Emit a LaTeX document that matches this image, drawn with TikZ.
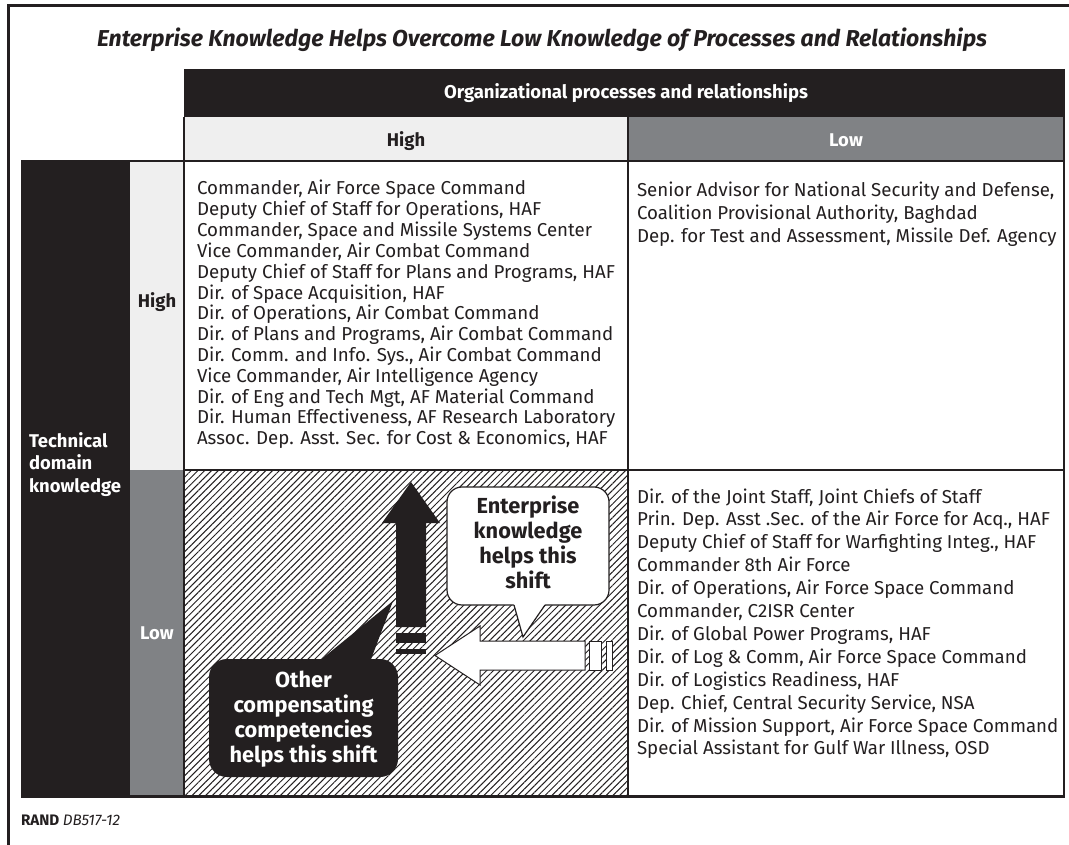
\documentclass[tikz,border=0pt]{standalone}
\usepackage{fontspec}
\setmainfont{Fira Sans}
\usetikzlibrary{patterns.meta}
\definecolor{ink}{HTML}{231F20}
\definecolor{paleg}{HTML}{EFEFEF}
\definecolor{midg}{HTML}{808285}
\newlength\probew
% font size (pt) at which sample #3 in font #2 is #4 pt wide
\newcommand\fitsz[4]{%
  \settowidth\probew{\normalfont#2\fontsize{10pt}{12pt}\selectfont #3}%
  \pgfmathsetmacro#1{10*#4/\probew}%
  \global\let#1#1}
\newcommand\setfs[1]{\fontsize{#1pt}{#1pt}\selectfont}
\AtBeginDocument{%
  \fitsz\szbody{}{Deputy Chief of Staff for Plans and Programs, HAF}{418}%
  \fitsz\szlab{\bfseries}{knowledge}{92}%
  \fitsz\szhead{\bfseries}{Organizational processes and relationships}{364}%
  \fitsz\szbub{\bfseries}{compensating}{140}%
  \fitsz\sztitle{\bfseries\itshape}{Enterprise Knowledge Helps Overcome Low Knowledge of Processes and Relationships}{890}%
  \fitsz\szrand{\bfseries}{RAND \mdseries\itshape DB517-12}{99}}

\begin{document}
\begin{tikzpicture}[x=1pt,y=-1pt,
  every node/.style={inner sep=0pt,outer sep=0pt},
  bodytxt/.style={anchor=base west,text=ink,font=\setfs{\szbody}},
  labtxt/.style={anchor=base,font=\bfseries\setfs{\szlab}},
  bubtxt/.style={anchor=base,font=\bfseries\setfs{\szbub}},
  thin rule/.style={draw=ink,line width=1.5pt},
  thick rule/.style={draw=ink,line width=2.6pt},
  hatch/.style={pattern={Lines[angle=45,distance=4.8pt,line width=1pt]},pattern color=ink}]

\useasboundingbox (0,0) rectangle (1069,845);
\fill[white] (0,0) rectangle (1069,845);

% outer frame
\draw[ink,line width=3pt] (8,845) -- (8,6) -- (1069,6);

% title
\node[anchor=base,text=ink,font=\bfseries\itshape\setfs{\sztitle}] (title) at (542,47)
  {Enterprise Knowledge Helps Overcome Low Knowledge of Processes and Relationships};

% column headers
\fill[ink] (184,69) rectangle (1064,117);
\fill[paleg] (184,117) rectangle (628,161);
\fill[midg] (628,117) rectangle (1064,161);
\node[anchor=base,text=white,font=\bfseries\setfs{\szhead}] (orghead) at (626,99)
  {Organizational processes and relationships};
\node[labtxt,text=ink] (colhigh) at (406,147) {High};
\node[labtxt,text=white] (collow) at (846,147) {Low};

% row headers
\fill[ink] (21,161) rectangle (130,796);
\fill[paleg] (130,161) rectangle (184,470);
\fill[midg] (130,470) rectangle (184,796);
\node[labtxt,anchor=base west,text=white] (tech1) at (29,447) {Technical};
\node[labtxt,anchor=base west,text=white] (tech2) at (29,469.5) {domain};
\node[labtxt,anchor=base west,text=white] (tech3) at (29,492) {knowledge};
\node[labtxt,text=ink] (rowhigh) at (157,308) {High};
\node[labtxt,text=white] (rowlow) at (157,639) {Low};

% hatched cell
\path[hatch] (184,470) rectangle (628,796);

% grid rules
\draw[thin rule] (184,117) -- (184,796);
\draw[thin rule] (628,117) -- (628,796);
\draw[thin rule] (21,161) -- (1064,161);
\draw[thin rule] (184,470) -- (1064,470);
\draw[thick rule] (1064,69) -- (1064,796.5) -- (21,796.5);

% cell contents
\foreach \t [count=\i from 0] in {
  {Commander, Air Force Space Command},
  {Deputy Chief of Staff for Operations, HAF},
  {Commander, Space and Missile Systems Center},
  {Vice Commander, Air Combat Command},
  {Deputy Chief of Staff for Plans and Programs, HAF},
  {Dir. of Space Acquisition, HAF},
  {Dir. of Operations, Air Combat Command},
  {Dir. of Plans and Programs, Air Combat Command},
  {Dir. Comm. and Info. Sys., Air Combat Command},
  {Vice Commander, Air Intelligence Agency},
  {Dir. of Eng and Tech Mgt, AF Material Command},
  {Dir. Human Effectiveness, AF Research Laboratory},
  {Assoc. Dep. Asst. Sec. for Cost \& Economics, HAF}}
  \node[bodytxt] (hh\i) at (197,195+20.8*\i) {\t};

\foreach \t [count=\i from 0] in {
  {Senior Advisor for National Security and Defense,},
  {Coalition Provisional Authority, Baghdad},
  {Dep. for Test and Assessment, Missile Def. Agency}}
  \node[bodytxt] (hl\i) at (637,197+22.9*\i) {\t};

\foreach \t [count=\i from 0] in {
  {Dir. of the Joint Staff, Joint Chiefs of Staff},
  {Prin. Dep. Asst .Sec. of the Air Force for Acq., HAF},
  {Deputy Chief of Staff for Warfighting Integ., HAF},
  {Commander 8th Air Force},
  {Dir. of Operations, Air Force Space Command},
  {Commander, C2ISR Center},
  {Dir. of Global Power Programs, HAF},
  {Dir. of Log \& Comm, Air Force Space Command},
  {Dir. of Logistics Readiness, HAF},
  {Dep. Chief, Central Security Service, NSA},
  {Dir. of Mission Support, Air Force Space Command},
  {Special Assistant for Gulf War Illness, OSD}}
  \node[bodytxt] (ll\i) at (637,503+22.9*\i) {\t};

% upward shift: solid arrow with broken tail
\fill[ink] (411,482) -- (440,523) -- (426,523) -- (426,627) -- (396,627)
  -- (396,523) -- (382,523) -- cycle;
\fill[ink] (396,633) rectangle (426,643);
\fill[ink] (396,649) rectangle (426,654);

% leftward shift: open arrow with broken tail
\draw[ink,fill=white,line width=1pt] (435,655.5) -- (480,626) -- (480,641) -- (585,641)
  -- (585,670) -- (480,670) -- (480,685) -- cycle;
\draw[ink,fill=white,line width=1pt] (589,641) rectangle (601,670);
\draw[ink,fill=white,line width=1pt] (606,641) rectangle (612,670);

% callout: enterprise knowledge
\draw[ink,fill=white,line width=1.2pt,rounded corners=15pt] (447,487) rectangle (609,605);
\fill[white] (513.5,603) -- (523,637) -- (546,603) -- cycle;
\draw[ink,line width=1.2pt] (514,605) -- (523,637) -- (545,605);
\node[bubtxt,text=ink] (ek1) at (528,513) {Enterprise};
\node[bubtxt,text=ink] (ek2) at (528,538) {knowledge};
\node[bubtxt,text=ink] (ek3) at (528,563) {helps this};
\node[bubtxt,text=ink] (ek4) at (528,588) {shift};

% callout: other competencies
\fill[ink,rounded corners=18pt] (209,659) rectangle (398,777);
\fill[ink] (318,662) -- (393,601) -- (370,662) -- cycle;
\node[bubtxt,text=white] (oc1) at (303.5,687) {Other};
\node[bubtxt,text=white] (oc2) at (303.5,712) {compensating};
\node[bubtxt,text=white] (oc3) at (303.5,737) {competencies};
\node[bubtxt,text=white] (oc4) at (303.5,762) {helps this shift};

% source line
\node[anchor=base west,text=ink,font=\setfs{\szrand}] (src) at (21,825)
  {\bfseries RAND \mdseries\itshape DB517-12};
\end{tikzpicture}
\end{document}
